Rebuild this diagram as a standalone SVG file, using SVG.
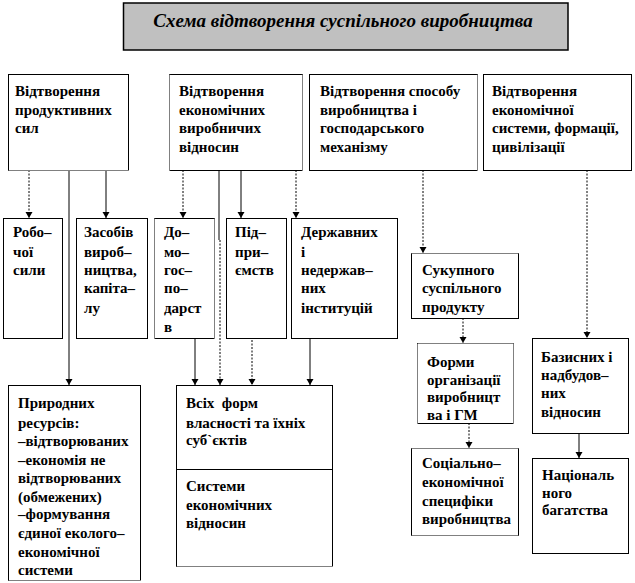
<svg xmlns="http://www.w3.org/2000/svg" width="635" height="583" viewBox="0 0 635 583">
<style>
.bx{fill:#fff;stroke:#000;stroke-width:1}
.t{font-family:"Liberation Serif","Times New Roman",serif;font-weight:bold;font-size:15px;fill:#000}
.ttl{font-family:"Liberation Serif","Times New Roman",serif;font-weight:bold;font-style:italic;font-size:19px;fill:#000}
.c{fill:none;stroke:#000;stroke-width:1}
.d{stroke-dasharray:2 1.5}
.ds{fill:none;stroke:#000;stroke-width:1;stroke-dasharray:1 1}
.wh{fill:none;stroke:#fff;stroke-width:1.2}
</style>
<defs>
<marker id="a" markerWidth="8" markerHeight="8" refX="7" refY="4" orient="auto" markerUnits="userSpaceOnUse" viewBox="0 0 8 8">
<path d="M1,0.5 L7,4 L1,7.5 Z" fill="#000"/>
</marker>
</defs>
<rect width="635" height="583" fill="#fff"/>
<g id="title">
<rect x="123.5" y="3" width="444.5" height="47" fill="#c0c0c0" stroke="#000" stroke-width="1.5"/>
<text class="ttl" x="343" y="27" text-anchor="middle">Схема відтворення суспільного виробництва</text>
</g>
<g id="connectors">
<path class="c d" d="M29,170 V218" marker-end="url(#a)"/>
<path class="c" d="M69,170 V385" marker-end="url(#a)"/>
<path class="c" d="M106,170 V218" marker-end="url(#a)"/>
<path class="c d" d="M183,170 V218" marker-end="url(#a)"/>
<path class="c" d="M219,170 V240"/>
<path class="c d" d="M220,240 V385" marker-end="url(#a)"/>
<path class="c" d="M241,170 V218" marker-end="url(#a)"/>
<path class="c d" d="M296,170 V218" marker-end="url(#a)"/>
<path class="c" d="M195,338 V385" marker-end="url(#a)"/>
<path class="c d" d="M252,340 V385" marker-end="url(#a)"/>
<path class="c" d="M310,338 V385" marker-end="url(#a)"/>
<path class="c d" d="M423,170 V253" marker-end="url(#a)"/>
<path class="c d" d="M463,318 V343" marker-end="url(#a)"/>
<path class="c d" d="M469,423 V448" marker-end="url(#a)"/>
<path class="c d" d="M587,170 V338" marker-end="url(#a)"/>
<path class="c" d="M579,433 V458" marker-end="url(#a)"/>
</g>
<g id="n1">
<rect class="bx" x="8.5" y="74.5" width="120" height="96"/>
<path class="wh" d="M8.5,170.5 H128.5"/><path class="ds" d="M8.5,170.5 H128.5"/>
<text class="t" x="15"><tspan x="15" y="96">Відтворення</tspan><tspan x="15" y="115">продуктивних</tspan><tspan x="15" y="133">сил</tspan></text>
</g>
<g id="n2">
<rect class="bx" x="169.5" y="74.5" width="133" height="96"/>
<path class="wh" d="M169.5,74.5 V170.5 M302.5,74.5 V170.5"/><path class="ds" d="M169.5,74.5 V170.5 M302.5,74.5 V170.5"/>
<text class="t"><tspan x="179" y="96">Відтворення</tspan><tspan x="179" y="115">економічних</tspan><tspan x="179" y="133">виробничих</tspan><tspan x="179" y="152">відносин</tspan></text>
</g>
<g id="n3">
<rect class="bx" x="309.5" y="74.5" width="168" height="96"/>
<path class="wh" d="M477.5,74.5 V170.5"/><path class="ds" d="M477.5,74.5 V170.5"/>
<text class="t"><tspan x="320" y="96">Відтворення способу</tspan><tspan x="320" y="115">виробництва і</tspan><tspan x="320" y="133">господарського</tspan><tspan x="320" y="152">механізму</tspan></text>
</g>
<g id="n4">
<rect class="bx" x="483.5" y="74.5" width="148" height="96"/>
<text class="t"><tspan x="492" y="96">Відтворення</tspan><tspan x="492" y="115">економічної</tspan><tspan x="492" y="133">системи, формації,</tspan><tspan x="492" y="152">цивілізації</tspan></text>
</g>
<g id="n5">
<rect class="bx" x="3.5" y="218.5" width="59" height="120"/>
<text class="t"><tspan x="13" y="237">Робо–</tspan><tspan x="13" y="257">чої</tspan><tspan x="13" y="275">сили</tspan></text>
</g>
<g id="n6">
<rect class="bx" x="76.5" y="218.5" width="71" height="120"/>
<text class="t"><tspan x="84" y="237">Засобів</tspan><tspan x="84" y="257">вироб–</tspan><tspan x="84" y="275">ництва,</tspan><tspan x="84" y="293">капіта–</tspan><tspan x="84" y="313">лу</tspan></text>
</g>
<g id="n7">
<rect class="bx" x="154.5" y="218.5" width="60" height="120"/>
<path class="wh" d="M154.5,218.5 V338.5 M214.5,218.5 V338.5"/><path class="ds" d="M154.5,218.5 V338.5 M214.5,218.5 V338.5"/>
<text class="t"><tspan x="164" y="237">До–</tspan><tspan x="164" y="257">мо–</tspan><tspan x="164" y="275">гос–</tspan><tspan x="164" y="293">по–</tspan><tspan x="164" y="313">дарст</tspan><tspan x="164" y="332">в</tspan></text>
</g>
<g id="n8">
<rect class="bx" x="226.5" y="218.5" width="60" height="120"/>
<text class="t"><tspan x="235" y="237">Під–</tspan><tspan x="235" y="257">при–</tspan><tspan x="235" y="275">ємств</tspan></text>
</g>
<g id="n9">
<rect class="bx" x="291.5" y="218.5" width="106" height="120"/>
<text class="t"><tspan x="301" y="237">Державних</tspan><tspan x="301" y="257">і</tspan><tspan x="301" y="275">недержав–</tspan><tspan x="301" y="293">них</tspan><tspan x="301" y="313">інституцій</tspan></text>
</g>
<g id="n10">
<rect class="bx" x="411.5" y="253.5" width="107" height="65"/>
<path class="wh" d="M411.5,253.5 H518.5"/><path class="ds" d="M411.5,253.5 H518.5"/>
<text class="t"><tspan x="422" y="275">Сукупного</tspan><tspan x="422" y="293">суспільного</tspan><tspan x="422" y="312">продукту</tspan></text>
</g>
<g id="n11">
<rect class="bx" x="417.5" y="343.5" width="96" height="80"/>
<path class="wh" d="M417.5,343.5 V423.5 M513.5,343.5 V423.5 M417.5,343.5 H513.5"/><path class="ds" d="M417.5,343.5 V423.5 M513.5,343.5 V423.5 M417.5,343.5 H513.5"/>
<text class="t"><tspan x="427" y="367">Форми</tspan><tspan x="427" y="385">організації</tspan><tspan x="427" y="402">виробницт</tspan><tspan x="427" y="420">ва і ГМ</tspan></text>
</g>
<g id="n12">
<rect class="bx" x="411.5" y="448.5" width="107" height="87"/>
<path class="wh" d="M411.5,448.5 H518.5 M411.5,535.5 H518.5"/><path class="ds" d="M411.5,448.5 H518.5 M411.5,535.5 H518.5"/>
<text class="t"><tspan x="422" y="468">Соціально–</tspan><tspan x="422" y="487">економічної</tspan><tspan x="422" y="506">специфіки</tspan><tspan x="422" y="524">виробництва</tspan></text>
</g>
<g id="n13">
<rect class="bx" x="532.5" y="338.5" width="96" height="95"/>
<text class="t"><tspan x="541" y="362">Базисних і</tspan><tspan x="541" y="380">надбудов–</tspan><tspan x="541" y="398">них</tspan><tspan x="541" y="417">відносин</tspan></text>
</g>
<g id="n14">
<rect class="bx" x="532.5" y="458.5" width="96" height="95"/>
<text class="t"><tspan x="542" y="480">Національ</tspan><tspan x="542" y="498">ного</tspan><tspan x="542" y="515">багатства</tspan></text>
</g>
<g id="n15">
<rect class="bx" x="8.5" y="385.5" width="132" height="195"/>
<path class="wh" d="M8.5,580.5 H140.5"/><path class="ds" d="M8.5,580.5 H140.5"/>
<text class="t"><tspan x="18" y="408">Природних</tspan><tspan x="18" y="428">ресурсів:</tspan><tspan x="18" y="446">–відтворюваних</tspan><tspan x="18" y="465">–економія не</tspan><tspan x="18" y="483">відтворюваних</tspan><tspan x="18" y="502">(обмежених)</tspan><tspan x="18" y="519">–формування</tspan><tspan x="18" y="538">єдиної еколого–</tspan><tspan x="18" y="557">економічної</tspan><tspan x="18" y="575">системи</tspan></text>
</g>
<g id="n16">
<rect class="bx" x="176.5" y="385.5" width="156" height="181"/>
<path class="wh" d="M176.5,566.5 H332.5"/><path class="ds" d="M176.5,566.5 H332.5"/>
<line x1="176.5" y1="469.5" x2="332.5" y2="469.5" stroke="#000" stroke-width="1"/>
<text class="t"><tspan x="186" y="408" xml:space="preserve">Всіх  форм</tspan><tspan x="186" y="428">власності та їхніх</tspan><tspan x="186" y="445">суб`єктів</tspan><tspan x="186" y="491">Системи</tspan><tspan x="186" y="510">економічних</tspan><tspan x="186" y="528">відносин</tspan></text>
</g>
</svg>
